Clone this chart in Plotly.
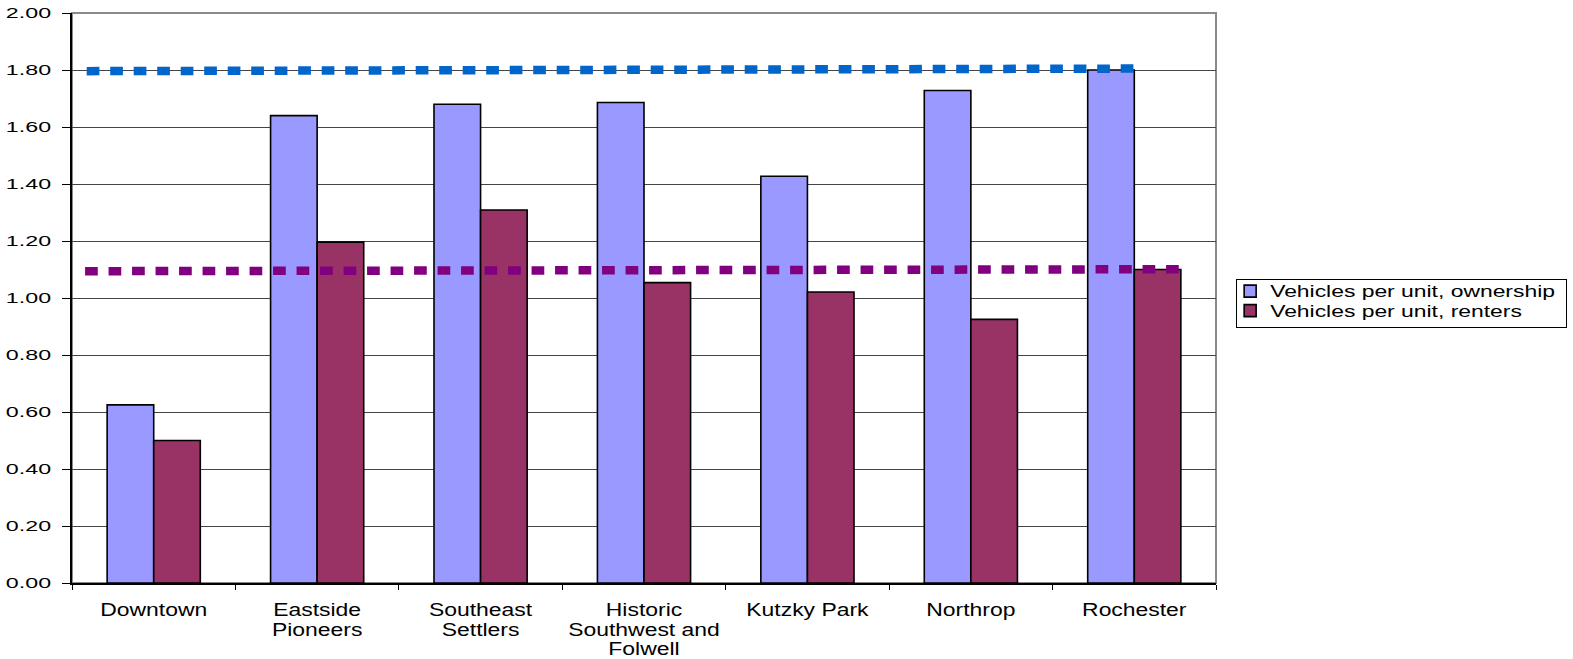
import plotly.graph_objects as go

# Neighbourhood categories (tick labels, wrapped as on the axis)
neighbourhoods = [
    "Downtown",
    "Eastside<br>Pioneers",
    "Southeast<br>Settlers",
    "Historic<br>Southwest and<br>Folwell",
    "Kutzky Park",
    "Northrop",
    "Rochester",
]

# Vehicles per housing unit
ownership = [0.625, 1.64, 1.68, 1.686, 1.427, 1.728, 1.80]
renters = [0.50, 1.196, 1.309, 1.054, 1.021, 0.925, 1.10]

# Reference levels (start value, end value) drawn as dotted lines
ownership_level = [1.796, 1.805]
renters_level = [1.094, 1.101]

series_names = ["Vehicles per unit, ownership", "Vehicles per unit, renters"]
y_ticks = [0.0, 0.2, 0.4, 0.6, 0.8, 1.0, 1.2, 1.4, 1.6, 1.8, 2.0]

FONT = "Liberation Sans, Arial, sans-serif"

fig = go.Figure()

fig.add_trace(go.Bar(
    x=neighbourhoods, y=ownership, name=series_names[0],
    marker=dict(color="#9999FF", line=dict(color="#000000", width=1.6)),
))
fig.add_trace(go.Bar(
    x=neighbourhoods, y=renters, name=series_names[1],
    marker=dict(color="#993366", line=dict(color="#000000", width=1.6)),
))

# Dotted reference lines on a numeric overlay axis (category units)
owner_span = [-0.41, 6.01]
renter_span = [-0.42, 6.28]
fig.add_trace(go.Scatter(
    x=owner_span, y=ownership_level, xaxis="x2", mode="lines", showlegend=False,
    line=dict(color="#0066CC", width=8.5, dash="12.7px,10.8px"), hoverinfo="skip",
))
fig.add_trace(go.Scatter(
    x=renter_span, y=renters_level, xaxis="x2", mode="lines", showlegend=False,
    line=dict(color="#800080", width=8.5, dash="12.7px,10.8px"), hoverinfo="skip",
))

fig.update_layout(
    width=1573, height=659,
    margin=dict(l=72, r=357, t=13, b=76, pad=0, autoexpand=False),
    paper_bgcolor="white", plot_bgcolor="white",
    font=dict(family=FONT, color="#000000"),
    barmode="group", bargap=0.43, bargroupgap=0,
    xaxis=dict(
        type="category", range=[-0.5, 6.5], automargin=False,
        showline=True, linecolor="#000000", linewidth=1.6,
        ticks="outside", tickson="boundaries", ticklen=5, tickcolor="#000000", tickwidth=1.2,
        showgrid=False, zeroline=False,
        tickfont=dict(family=FONT, size=17.5, color="#000000"),
        ticklabelstandoff=10,
    ),
    xaxis2=dict(
        overlaying="x", range=[-0.5, 6.5], visible=False, showgrid=False, zeroline=False,
        automargin=False,
    ),
    yaxis=dict(
        range=[0, 2], tickvals=y_ticks, tickformat=".2f", automargin=False,
        showline=True, linecolor="#000000", linewidth=1.6,
        ticks="outside", ticklen=8, tickcolor="#000000", tickwidth=1.2,
        showgrid=True, gridcolor="#454545", gridwidth=1.3,
        zeroline=False,
        tickfont=dict(family=FONT, size=15.5, color="#000000"),
        ticklabelstandoff=8,
    ),
    legend=dict(
        x=1.0115, y=0.533, xanchor="left", yanchor="top",
        bordercolor="#000000", borderwidth=1, bgcolor="white",
        font=dict(family=FONT, size=16, color="#000000"),
        tracegroupgap=0,
    ),
    shapes=[dict(
        type="rect", xref="paper", yref="paper", x0=0, x1=1, y0=0, y1=1,
        line=dict(color="#8a8a8a", width=2), layer="below",
    )],
    showlegend=True,
)

# Widen the label lettering horizontally, tighten wrapped x-label lines
# and compact the legend box
stretch_js = """
var gd = document.getElementById('{plot_id}');
function stretch(sel, sx) {
  gd.querySelectorAll(sel).forEach(function(t) {
    var cur = t.getAttribute('transform') || '';
    if (t.__setTr !== undefined && cur === t.__setTr) return;
    var x = parseFloat(t.getAttribute('x')) || 0;
    var tr = cur + ' translate(' + x + ',0) scale(' + sx + ',1) translate(' + (-x) + ',0)';
    t.setAttribute('transform', tr);
    t.__setTr = tr;
  });
}
function tighten(sel, lh) {
  gd.querySelectorAll(sel).forEach(function(s) {
    var dy = s.getAttribute('dy') || '0em';
    if (s.__fixedDy === dy) return;
    var k = parseFloat(dy) / 1.3;
    var nd = (k * lh) + 'em';
    s.setAttribute('dy', nd);
    s.__fixedDy = nd;
  });
}
function parseTranslate(tr) {
  var m = /translate\\(\\s*([-\\d.e]+)[ ,]+([-\\d.e]+)/.exec(tr || '');
  return m ? [parseFloat(m[1]), parseFloat(m[2])] : [0, 0];
}
function restyleLegend() {
  var lg = gd.querySelector('g.legend');
  if (!lg) return;
  var texts = lg.querySelectorAll('text.legendtext');
  var maxR = 0;
  texts.forEach(function(t) {
    if (t.__setTr !== undefined && t.getAttribute('transform') === t.__setTr) return;
    var bb = t.getBBox();
    var x = parseFloat(t.getAttribute('x')) || 0;
    maxR = Math.max(maxR, x + bb.width * 1.43);
  });
  stretch('g.legend text.legendtext', 1.43);
  var sb = lg.querySelector('g.scrollbox');
  if (sb) sb.removeAttribute('clip-path');
  var items = lg.querySelectorAll('g.traces');
  var step = 19.5, lift = 6;
  items.forEach(function(g, i) {
    var cur = g.getAttribute('transform') || '';
    if (g.__setTr !== undefined && cur === g.__setTr) return;
    var p = parseTranslate(cur);
    var base = (i === 0) ? p[1] : parseTranslate(items[0].__origTr || items[0].getAttribute('transform'))[1];
    g.__origTr = cur;
    var ny = base - lift + i * step;
    var tr = 'translate(' + p[0] + ',' + ny + ')';
    g.setAttribute('transform', tr);
    g.__setTr = tr;
  });
  var bg = lg.querySelector('rect.bg');
  if (bg && maxR > 0) {
    var bx = parseFloat(bg.getAttribute('x')) || 0;
    bg.setAttribute('x', bx + 7);
    bg.setAttribute('width', maxR + 12 - bx - 7);
    bg.setAttribute('height', 48);
  }
}
function restyleText() {
  stretch('g.ytick text', 1.5);
  stretch('g.xtick text', 1.31);
  tighten('g.xtick text tspan.line', 1.13);
  restyleLegend();
}
restyleText();
gd.on('plotly_afterplot', restyleText);
"""

fig.write_html("out.html", post_script=stretch_js)
